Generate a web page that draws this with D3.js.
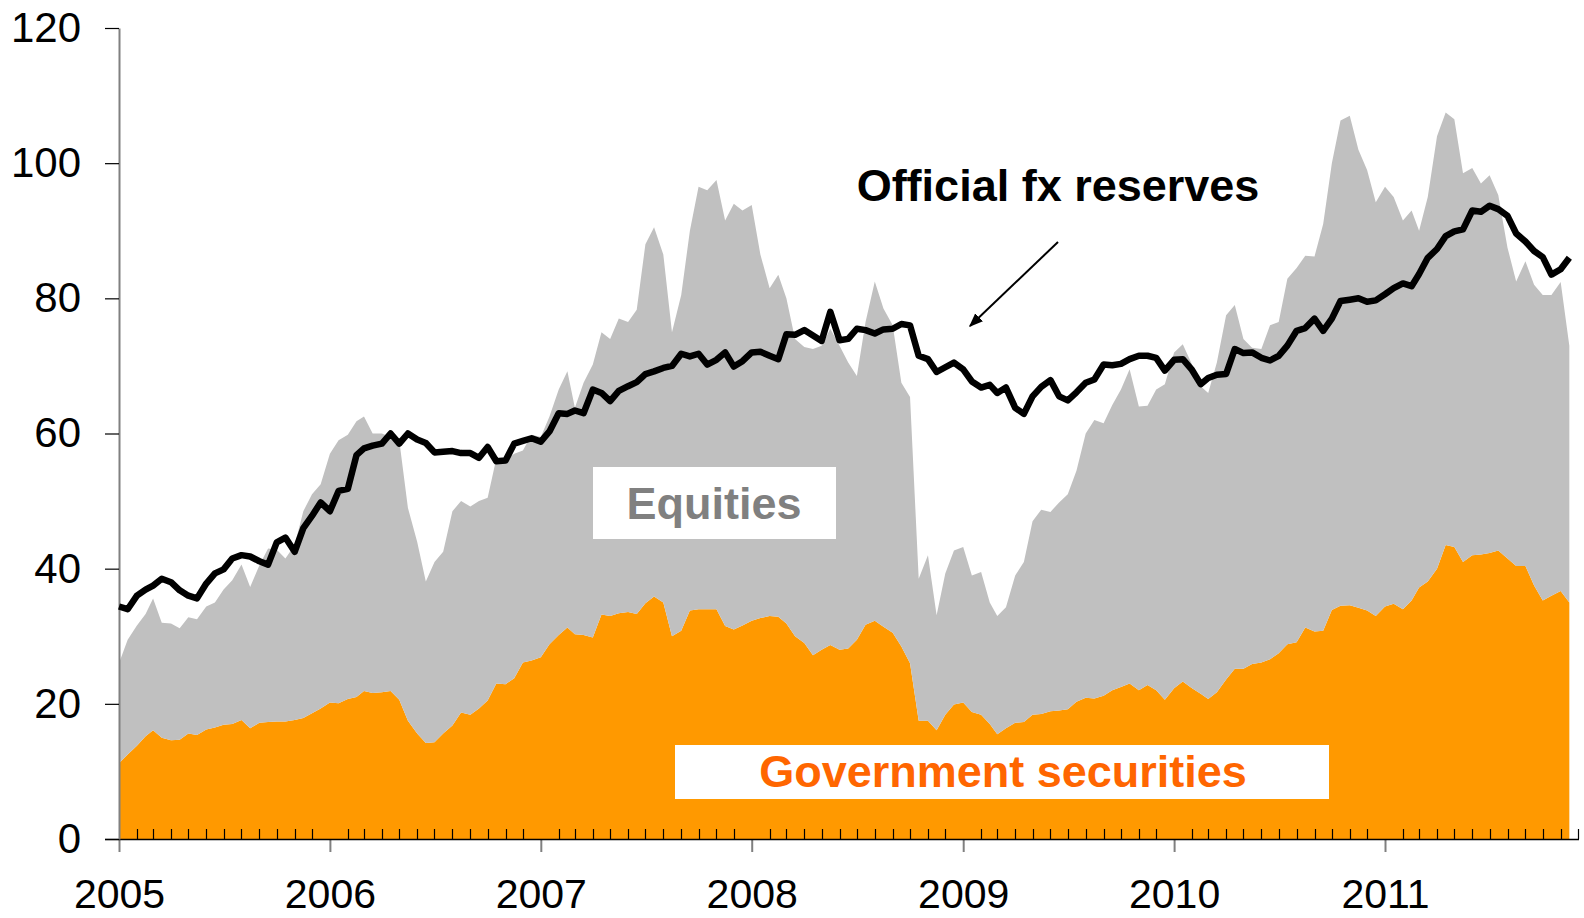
<!DOCTYPE html>
<html>
<head>
	<meta charset="utf-8">
	<title>Official fx reserves</title>
	<script src="https://cdn.jsdelivr.net/npm/d3@7/dist/d3.min.js"></script>
	<style>
		body { margin: 0; background: #fff; }
		text { font-family: "Liberation Sans", Arial, sans-serif; }
		.tick text { font-size: 42px; fill: #000; }
		.xaxis .tick text { font-size: 41px; }
		.label { font-weight: bold; font-size: 45px; text-anchor: middle; }
	</style>
</head>
<body>
	<svg id="chart" width="1584" height="918"></svg>

	<script type="text/javascript">
		// half-monthly readings, 1st and 16th of each month, Jan 2005 .. mid Nov 2011
		var govSecurities = [
			11.2,12.5,13.8,15.2,16.1,15.0,14.6,14.7,15.6,15.4,16.2,16.5,16.9,17.0,17.6,16.4,17.2,17.3,17.4,17.4,17.6,17.9,18.6,19.3,
			20.2,20.1,20.7,21.0,21.9,21.6,21.7,21.9,20.6,17.5,15.6,14.2,14.3,15.6,16.8,18.7,18.4,19.3,20.5,23.0,22.9,23.8,26.1,26.4,
			26.9,28.8,30.2,31.3,30.3,30.2,29.8,33.2,33.0,33.4,33.6,33.3,34.9,35.9,35.0,30.0,30.8,33.8,34.0,34.0,34.0,31.5,31.0,31.6,
			32.3,32.7,33.0,32.9,31.9,30.0,29.0,27.2,28.0,28.7,28.0,28.2,29.5,31.7,32.3,31.4,30.5,28.5,26.0,17.5,17.5,16.1,18.4,19.9,
			20.2,18.8,18.4,17.0,15.5,16.4,17.2,17.3,18.4,18.5,18.9,19.0,19.2,20.3,20.9,20.8,21.2,22.0,22.5,23.0,22.0,22.8,22.0,20.6,
			22.3,23.3,22.3,21.5,20.7,21.7,23.6,25.2,25.2,25.9,26.1,26.6,27.5,28.8,29.1,31.3,30.7,30.8,33.9,34.5,34.6,34.2,33.8,33.0,
			34.4,34.8,34.0,35.3,37.2,38.1,40.0,43.5,43.2,41.0,42.0,42.1,42.3,42.7,41.5,40.4,40.4,37.5,35.3,36.0,36.7,35.0
		];
		// top of the grey area = government securities + equities
		var totalHoldings = [
			26.0,29.5,31.6,33.3,35.6,32.0,31.9,31.2,32.8,32.5,34.4,35.0,36.9,38.3,40.6,37.3,40.5,43.0,42.8,41.5,43.5,48.5,51.0,52.5,
			57.0,59.0,59.8,61.8,62.5,60.0,60.0,59.5,59.0,49.0,44.0,38.1,41.0,42.5,48.5,50.0,49.2,50.0,50.5,56.3,56.0,57.0,57.5,59.8,
			59.5,62.5,66.5,69.2,63.8,67.5,70.2,75.0,74.0,77.0,76.5,78.3,88.0,90.5,86.5,75.0,80.5,90.0,96.5,96.0,97.5,91.5,94.0,93.0,
			93.8,86.5,81.5,83.5,80.0,74.0,72.8,72.5,73.0,75.5,73.0,70.5,68.5,76.5,82.5,78.5,76.0,67.5,65.4,38.5,42.0,33.1,39.3,42.7,
			43.2,39.0,39.5,35.0,33.0,34.3,39.0,41.0,47.0,48.7,48.4,49.8,51.0,54.5,60.0,62.0,61.5,64.2,66.5,69.5,64.0,64.1,66.5,67.3,
			72.0,73.2,70.2,67.0,66.0,70.5,77.5,79.0,74.0,72.7,72.5,76.0,76.5,82.9,84.5,86.3,86.2,91.0,100.0,106.3,107.0,102.0,99.0,94.2,
			96.5,95.0,91.5,93.0,90.0,95.0,104.0,107.5,106.5,98.5,99.3,97.0,98.2,95.3,87.5,82.5,85.5,82.0,80.5,80.5,82.4,73.0
		];
		var fxReserves = [
			34.4,34.0,36.0,36.9,37.5,38.5,38.0,36.8,36.0,35.6,37.8,39.3,39.9,41.5,42.0,41.8,41.1,40.6,43.9,44.6,42.5,46.0,47.8,49.8,
			48.5,51.5,51.8,56.8,57.8,58.2,58.5,60.0,58.5,60.0,59.1,58.6,57.2,57.3,57.4,57.1,57.1,56.4,58.0,55.9,56.0,58.5,58.9,59.3,
			58.8,60.3,63.0,62.9,63.4,63.0,66.5,66.0,64.8,66.3,67.0,67.6,68.8,69.2,69.7,70.0,71.8,71.4,71.8,70.2,70.9,72.0,69.9,70.7,
			72.0,72.1,71.5,71.0,74.7,74.6,75.3,74.5,73.7,78.0,73.8,74.0,75.5,75.3,74.8,75.4,75.5,76.2,76.0,71.5,71.0,69.1,69.8,70.5,
			69.5,67.7,66.8,67.2,66.0,66.8,63.8,62.9,65.5,66.9,67.9,65.5,64.9,66.1,67.5,68.0,70.2,70.1,70.3,71.0,71.5,71.5,71.2,69.3,
			70.9,71.0,69.4,67.3,68.2,68.7,68.8,72.5,71.9,72.0,71.2,70.8,71.5,73.0,75.2,75.6,77.0,75.2,77.0,79.6,79.8,80.0,79.5,79.7,
			80.6,81.5,82.2,81.8,83.6,86.0,87.3,89.2,89.9,90.2,93.0,92.8,93.7,93.2,92.2,89.6,88.4,87.0,86.1,83.5,84.3,86.0
		];
		var years = [2005, 2006, 2007, 2008, 2009, 2010, 2011];
		var yTicks = [0, 20, 40, 60, 80, 100, 120];

		var dates = d3.range(govSecurities.length).map(function(i) {
			return new Date(2005, Math.floor(i / 2), i % 2 ? 16 : 1);
		});
		var equities = totalHoldings.map(function(t, i) { return t - govSecurities[i]; });

		var rows = dates.map(function(d, i) {
			return { date: d, gov: govSecurities[i], equities: equities[i], fx: fxReserves[i] };
		});

		var svg = d3.select("#chart");
		var x = d3.scaleTime()
			.domain([new Date(2005, 0, 1), new Date(2011, 11, 1)])
			.range([119, 1578]);
		var y = d3.scaleLinear().domain([0, 120]).range([839, 28]);

		var stacked = d3.stack().keys(["gov", "equities"])(rows);
		var colors = { gov: "#ff9900", equities: "#c0c0c0" };

		var area = d3.area()
			.x(function(d) { return x(d.data.date); })
			.y0(function(d) { return y(d[0]); })
			.y1(function(d) { return y(d[1]); });

		svg.selectAll("path.layer")
			.data(stacked)
			.enter()
			.append("path")
			.attr("class", "layer")
			.attr("fill", function(d) { return colors[d.key]; })
			.attr("d", area);

		// monthly minor ticks, pointing up into the plot
		var months = d3.timeMonth.range(new Date(2005, 0, 1), new Date(2011, 11, 2))
			.filter(function(d) { return d.getMonth() !== 0; });
		svg.append("g")
			.selectAll("line")
			.data(months)
			.enter()
			.append("line")
			.attr("x1", function(d) { return Math.round(x(d)) + 0.5; })
			.attr("x2", function(d) { return Math.round(x(d)) + 0.5; })
			.attr("y1", 839)
			.attr("y2", 829)
			.attr("stroke", "#000")
			.attr("stroke-width", 1.2);

		// x axis with year labels
		var xAxis = svg.append("g")
			.attr("class", "xaxis")
			.attr("transform", "translate(0,839)")
			.call(d3.axisBottom(x)
				.tickValues(years.map(function(yr) { return new Date(yr, 0, 1); }))
				.tickFormat(d3.timeFormat("%Y"))
				.tickSizeOuter(0)
				.tickSize(13)
				.tickPadding(27));
		xAxis.select(".domain").remove();
		xAxis.selectAll(".tick line").attr("stroke", "#808080").attr("stroke-width", 2);
		svg.append("line")
			.attr("x1", 105).attr("x2", 1579)
			.attr("y1", 839.5).attr("y2", 839.5)
			.attr("stroke", "#000").attr("stroke-width", 1.5);

		// y axis
		var yAxis = svg.append("g")
			.attr("transform", "translate(119,0)")
			.call(d3.axisLeft(y)
				.tickValues(yTicks)
				.tickSize(14)
				.tickPadding(24)
				.tickSizeOuter(0));
		yAxis.select(".domain").attr("stroke", "#808080").attr("stroke-width", 2);
		yAxis.selectAll(".tick line").attr("stroke", "#000").attr("stroke-width", 1.2);

		// official fx reserves line
		var line = d3.line()
			.x(function(d) { return x(d.date); })
			.y(function(d) { return y(d.fx); });
		svg.append("path")
			.datum(rows)
			.attr("fill", "none")
			.attr("stroke", "#000")
			.attr("stroke-width", 6.5)
			.attr("stroke-linejoin", "round")
			.attr("d", line);

		// labels
		svg.append("rect").attr("x", 593).attr("y", 467).attr("width", 243).attr("height", 72).attr("fill", "#fff");
		svg.append("text").attr("class", "label").attr("x", 714).attr("y", 519)
			.attr("fill", "#808080").text("Equities");

		svg.append("rect").attr("x", 675).attr("y", 745).attr("width", 654).attr("height", 54).attr("fill", "#fff");
		svg.append("text").attr("class", "label").attr("x", 1003).attr("y", 787)
			.attr("fill", "#ff6600").text("Government securities");

		svg.append("text").attr("class", "label").attr("x", 1058).attr("y", 201)
			.attr("fill", "#000").text("Official fx reserves");

		svg.append("defs").append("marker")
			.attr("id", "arrow")
			.attr("viewBox", "0 0 10 10")
			.attr("refX", 9).attr("refY", 5)
			.attr("markerWidth", 7).attr("markerHeight", 7)
			.attr("orient", "auto")
			.append("path")
			.attr("d", "M0,1 L10,5 L0,9 z")
			.attr("fill", "#000");
		svg.append("line")
			.attr("x1", 1058).attr("y1", 242)
			.attr("x2", 970).attr("y2", 326)
			.attr("stroke", "#000").attr("stroke-width", 2)
			.attr("marker-end", "url(#arrow)");
	</script>
</body>
</html>
